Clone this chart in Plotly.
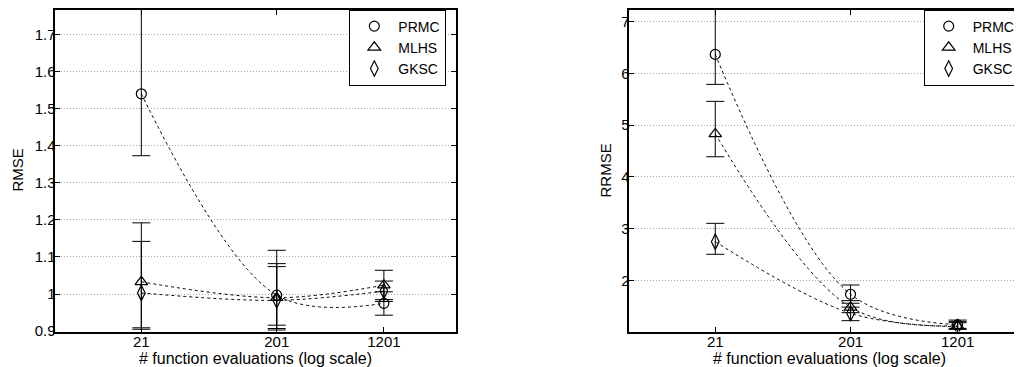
import math
import plotly.graph_objects as go

# ---------------- data ----------------
evals = [21, 201, 1201]
eval_labels = ["21", "201", "1201"]
methods = ["PRMC", "MLHS", "GKSC"]

# RMSE (left panel): mean, upper, lower of the error bars
rmse_prmc = [1.540, 0.997, 0.975]
rmse_prmc_hi = [1.900, 1.118, 1.006]
rmse_prmc_lo = [1.373, 0.903, 0.943]
rmse_mlhs = [1.033, 0.990, 1.024]
rmse_mlhs_hi = [1.192, 1.082, 1.064]
rmse_mlhs_lo = [0.905, 0.907, 0.985]
rmse_gksc = [1.003, 0.983, 1.008]
rmse_gksc_hi = [1.142, 1.074, 1.035]
rmse_gksc_lo = [0.909, 0.916, 0.980]

# RRMSE (right panel)
rrmse_prmc = [6.364, 1.738, 1.150]
rrmse_prmc_hi = [7.600, 1.917, 1.240]
rrmse_prmc_lo = [5.786, 1.565, 1.080]
rrmse_mlhs = [4.830, 1.487, 1.130]
rrmse_mlhs_hi = [5.458, 1.615, 1.210]
rrmse_mlhs_lo = [4.390, 1.383, 1.060]
rrmse_gksc = [2.752, 1.372, 1.110]
rrmse_gksc_hi = [3.106, 1.490, 1.190]
rrmse_gksc_lo = [2.509, 1.229, 1.000]

rmse_yticks = [0.9, 1.0, 1.1, 1.2, 1.3, 1.4, 1.5, 1.6, 1.7]
rmse_yticktext = ["0.9", "1", "1.1", "1.2", "1.3", "1.4", "1.5", "1.6", "1.7"]
rrmse_yticks = [2, 3, 4, 5, 6, 7]
rrmse_yticktext = ["2", "3", "4", "5", "6", "7"]

# ---------------- layout geometry (screen pixels, page has 8px body margin) ----------------
W, H = 1022, 367
OFF = 8
FONT = "Liberation Sans, Arial, Helvetica, sans-serif"
L_x0, L_x1 = 55.3 - OFF, 456.0 - OFF
R_x0, R_x1 = 629.3 - OFF, 1029.7 - OFF
Y_top, Y_bot = 10.0 - OFF, 331.5 - OFF
xr = [math.log10(5), math.log10(4000)]

symbols = ["circle-open", "triangle-up-open", "diamond-tall-open"]
sizes = [10, 11, 11]

fig = go.Figure()


def add_panel(means, his, los, xaxis, yaxis, legend):
    for m in means:
        fig.add_trace(go.Scatter(
            x=evals, y=m, mode="lines", xaxis=xaxis, yaxis=yaxis,
            line=dict(color="black", width=1, dash="3px,3px", shape="spline", smoothing=1.0),
            showlegend=False, hoverinfo="skip"))
    for i, (m, hi, lo) in enumerate(zip(means, his, los)):
        fig.add_trace(go.Scatter(
            x=evals, y=m, mode="markers", name=methods[i], xaxis=xaxis, yaxis=yaxis,
            legend=legend,
            marker=dict(symbol=symbols[i], size=sizes[i], color="black",
                        line=dict(width=1.2, color="black")),
            error_y=dict(type="data", symmetric=False,
                         array=[h - v for h, v in zip(hi, m)],
                         arrayminus=[v - l for v, l in zip(m, lo)],
                         color="black", thickness=1, width=9)))


add_panel([rmse_prmc, rmse_mlhs, rmse_gksc],
          [rmse_prmc_hi, rmse_mlhs_hi, rmse_gksc_hi],
          [rmse_prmc_lo, rmse_mlhs_lo, rmse_gksc_lo], "x", "y", "legend")
add_panel([rrmse_prmc, rrmse_mlhs, rrmse_gksc],
          [rrmse_prmc_hi, rrmse_mlhs_hi, rrmse_gksc_hi],
          [rrmse_prmc_lo, rrmse_mlhs_lo, rrmse_gksc_lo], "x2", "y2", "legend2")

ydom = [1 - Y_bot / H, 1 - Y_top / H]
common_x = dict(type="log", tickvals=evals, ticktext=eval_labels, ticks="inside", ticklen=5,
                tickcolor="black", showline=True, linecolor="black", linewidth=1.5,
                showgrid=False, zeroline=False, automargin=False, mirror="ticks",
                ticklabelstandoff=-4,
                tickfont=dict(family=FONT, size=15, color="black"))
common_y = dict(ticks="inside", ticklen=5, tickcolor="black", showline=True,
                linecolor="black", linewidth=1.5, showgrid=True, gridcolor="#a8a8a8",
                griddash="1px,2px", gridwidth=1, zeroline=False, automargin=False,
                mirror="ticks", ticklabelstandoff=-5,
                tickfont=dict(family=FONT, size=15, color="black"))
legend_common = dict(yanchor="top", xanchor="left", bgcolor="white", bordercolor="black",
                     borderwidth=1, itemwidth=38, tracegroupgap=0,
                     font=dict(family=FONT, size=14, color="black"))

fig.update_layout(
    width=W, height=H, margin=dict(l=0, r=0, t=0, b=0),
    paper_bgcolor="white", plot_bgcolor="white",
    xaxis=dict(**common_x, domain=[L_x0 / W, L_x1 / W], range=xr, anchor="y"),
    yaxis=dict(**common_y, domain=ydom, range=[0.899, 1.766], tickvals=rmse_yticks,
               ticktext=rmse_yticktext, anchor="x"),
    xaxis2=dict(**common_x, domain=[R_x0 / W, R_x1 / W], range=xr, anchor="y2"),
    yaxis2=dict(**common_y, domain=ydom, range=[1.02, 7.22], tickvals=rrmse_yticks,
                ticktext=rrmse_yticktext, anchor="x2"),
    legend=dict(**legend_common, x=(349.3 - OFF) / W, y=1 - (9.5 - OFF) / H),
    legend2=dict(**legend_common, x=(923.7 - OFF) / W, y=1 - (9.5 - OFF) / H),
    annotations=[
        dict(text="RMSE", x=(17 - OFF) / W, y=1 - (170.5 - OFF) / H, xref="paper", yref="paper",
             xanchor="center", yanchor="middle", textangle=-90, showarrow=False,
             font=dict(family=FONT, size=15, color="black")),
        dict(text="RRMSE", x=(605 - OFF) / W, y=1 - (170.5 - OFF) / H, xref="paper", yref="paper",
             xanchor="center", yanchor="middle", textangle=-90, showarrow=False,
             font=dict(family=FONT, size=15, color="black")),
        dict(text="# function evaluations (log scale)", x=(L_x0 + L_x1) / 2 / W,
             y=1 - (358 - OFF) / H, xref="paper", yref="paper", xanchor="center",
             yanchor="middle", showarrow=False, font=dict(family=FONT, size=16, color="black")),
        dict(text="# function evaluations (log scale)", x=(R_x0 + R_x1) / 2 / W,
             y=1 - (358 - OFF) / H, xref="paper", yref="paper", xanchor="center",
             yanchor="middle", showarrow=False, font=dict(family=FONT, size=16, color="black")),
    ],
)

fig.write_html("out.html")
